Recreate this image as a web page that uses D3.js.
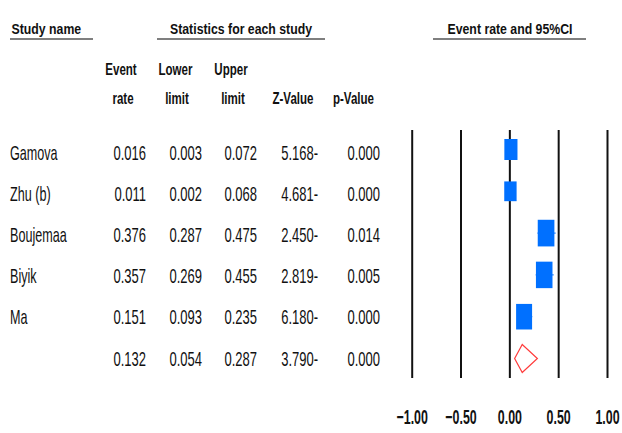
<!DOCTYPE html>
<html>
<head>
<meta charset="utf-8">
<script src="https://cdn.jsdelivr.net/npm/d3@7"></script>
<style>
  body { margin: 0; background: #fff; }
  text { font-family: "Liberation Sans", Arial, sans-serif; fill: #111; }
</style>
</head>
<body>
<div id="chart"></div>
<script>
const studies   = ["Gamova", "Zhu (b)", "Boujemaa", "Biyik", "Ma"];
const eventRate = [0.016, 0.011, 0.376, 0.357, 0.151];
const lowerLim  = [0.003, 0.002, 0.287, 0.269, 0.093];
const upperLim  = [0.072, 0.068, 0.475, 0.455, 0.235];
const zValues   = ["5.168-", "4.681-", "2.450-", "2.819-", "6.180-"];
const pValues   = ["0.000", "0.000", "0.014", "0.005", "0.000"];
const weights   = [14.9, 13.2, 24.0, 23.7, 22.1];
const summary   = {rate: 0.132, lower: 0.054, upper: 0.287, z: "3.790-", p: "0.000"};
const ticks     = [-1, -0.5, 0, 0.5, 1];

const width = 622, height = 433;
const svg = d3.select("#chart").append("svg")
    .attr("width", width).attr("height", height);

const x = d3.scaleLinear().domain([-1, 1]).range([411.7, 607]);
const yMark = i => 149.5 + 41.8 * i;
const yText = i => 159.5 + 41.2 * i;
const boxW = d3.scaleSqrt().domain([0, 25]).range([0, 17]);

function label(g, str, px, py, opts) {
  const o = Object.assign({size: 20, sx: 0.65, weight: "normal", anchor: "start"}, opts);
  return g.append("text")
    .attr("transform", `translate(${px},${py}) scale(${o.sx},1)`)
    .attr("font-size", o.size)
    .attr("font-weight", o.weight)
    .attr("text-anchor", o.anchor)
    .text(str);
}

// top headers with underlines
const hdr = {size: 15, sx: 0.82, weight: "bold"};
label(svg, "Study name", 11.5, 34, hdr);
label(svg, "Statistics for each study", 170, 34, hdr);
label(svg, "Event rate and 95%CI", 510, 34, Object.assign({anchor: "middle"}, hdr));
[[10, 93], [157, 325], [433, 586]].forEach(([a, b]) => {
  svg.append("line").attr("x1", a).attr("x2", b).attr("y1", 39).attr("y2", 39)
    .attr("stroke", "#555").attr("stroke-width", 1.3);
});

// column headers
const colHdr = {size: 17, sx: 0.68, weight: "bold", anchor: "middle"};
label(svg, "Event", 121, 74.5, colHdr);
label(svg, "rate", 123, 103.5, colHdr);
label(svg, "Lower", 175.5, 74.5, colHdr);
label(svg, "limit", 177, 103.5, colHdr);
label(svg, "Upper", 231, 74.5, colHdr);
label(svg, "limit", 233, 103.5, colHdr);
label(svg, "Z-Value", 293, 103.5, colHdr);
label(svg, "p-Value", 353.5, 103.5, colHdr);

// table body
const cols = [146, 202, 257, 318, 380];
const fmt = d3.format(".3f");
const cell = {size: 20, sx: 0.65, anchor: "end"};
studies.forEach((s, i) => {
  const yy = yText(i);
  label(svg, s, 10, yy, {size: 20, sx: 0.63});
  [fmt(eventRate[i]), fmt(lowerLim[i]), fmt(upperLim[i]), zValues[i], pValues[i]]
    .forEach((v, j) => label(svg, v, cols[j], yy, cell));
});
[fmt(summary.rate), fmt(summary.lower), fmt(summary.upper), summary.z, summary.p]
  .forEach((v, j) => label(svg, v, cols[j], yText(studies.length), cell));

// grid lines + axis labels
const axis = d3.axisBottom(x)
  .tickValues(ticks)
  .tickFormat(d3.format(".2f"))
  .tickSizeInner(-248)
  .tickSizeOuter(0);
const ax = svg.append("g").attr("transform", "translate(0,378)").call(axis);
ax.select(".domain").remove();
ax.selectAll(".tick line").attr("stroke", "#111").attr("stroke-width", 2);
ax.selectAll(".tick text")
  .attr("y", null).attr("dy", null)
  .attr("transform", "translate(0,45.5) scale(0.62,1)")
  .attr("font-size", 20).attr("font-weight", "bold")
  .attr("fill", "#111")
  .style("font-family", "'Liberation Sans', Arial, sans-serif");

// study boxes and CIs
const marks = svg.append("g");
studies.forEach((s, i) => {
  const cy = yMark(i);
  marks.append("line")
    .attr("x1", x(lowerLim[i])).attr("x2", x(upperLim[i]))
    .attr("y1", cy).attr("y2", cy)
    .attr("stroke", "#0070ff").attr("stroke-width", 1);
  const w = boxW(weights[i]), h = w * 1.6;
  marks.append("rect")
    .attr("x", x(eventRate[i]) - w / 2).attr("y", cy - h / 2)
    .attr("width", w).attr("height", h)
    .attr("fill", "#0070ff");
});

// summary diamond
const dy = yMark(studies.length);
const diamond = [
  [x(summary.lower), dy],
  [x(summary.rate), dy - 14],
  [x(summary.upper), dy],
  [x(summary.rate), dy + 14]
];
marks.append("path")
  .attr("d", d3.line()(diamond) + "Z")
  .attr("fill", "#fff")
  .attr("stroke", "#ff3b3b")
  .attr("stroke-width", 1.2);
</script>
</body>
</html>
